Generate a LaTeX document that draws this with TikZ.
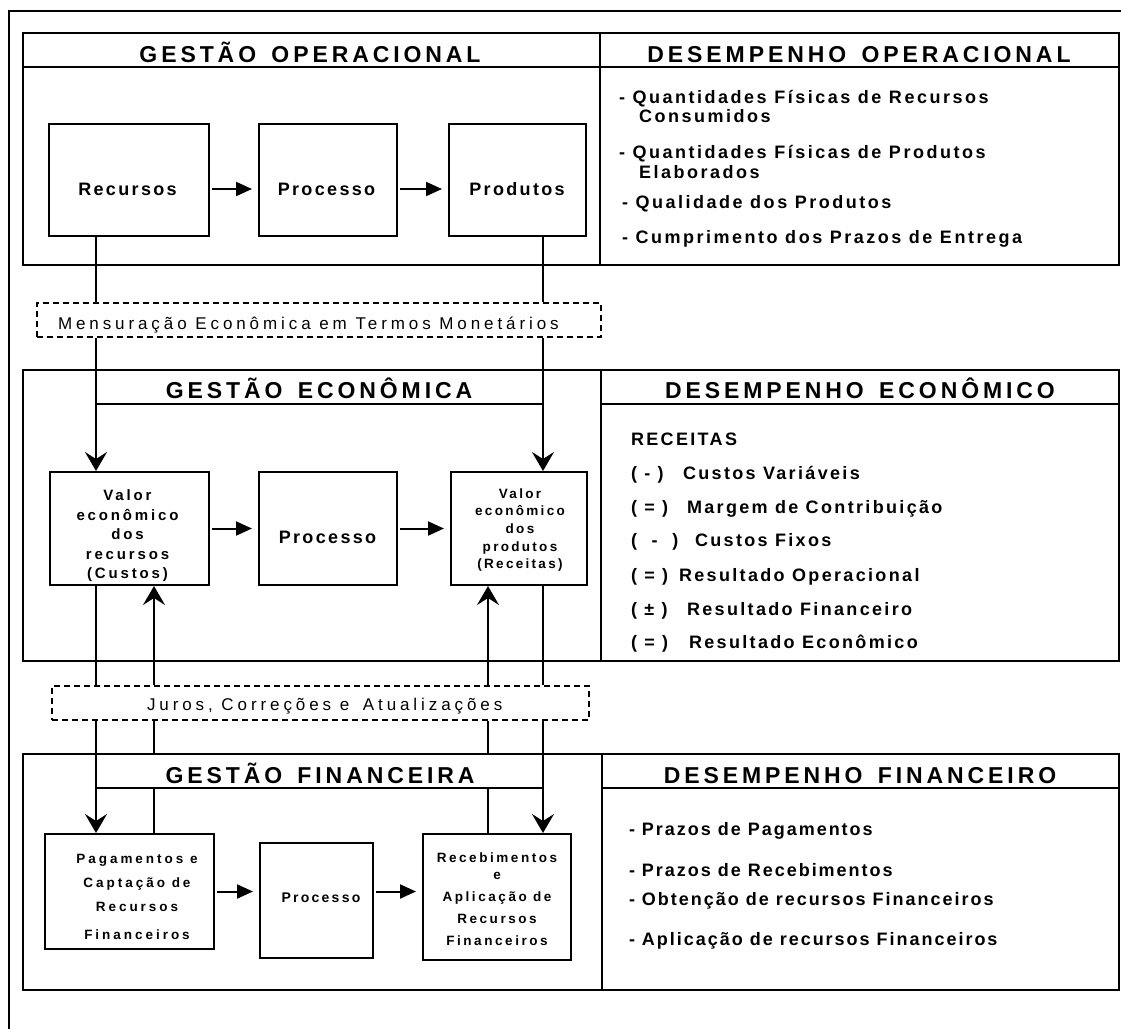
\documentclass[tikz,border=0pt]{standalone}
\usepackage{fontspec}
\setmainfont{Liberation Sans}
\usetikzlibrary{arrows.meta}

% type styles
\newcommand\hdrfont{\fontsize{23}{27}\selectfont\bfseries\addfontfeature{LetterSpace=17}}
\newcommand\lblfont{\fontsize{18}{21}\selectfont\bfseries\addfontfeature{LetterSpace=13}}
\newcommand\itmfont{\fontsize{18}{21}\selectfont\bfseries\addfontfeature{LetterSpace=13}}
\newcommand\itmwfont{\fontsize{18}{21}\selectfont\bfseries\addfontfeature{LetterSpace=14}}
\newcommand\itmnfont{\fontsize{18}{21}\selectfont\bfseries\addfontfeature{LetterSpace=11}}
\newcommand\dshfont{\fontsize{17}{20}\selectfont\addfontfeature{LetterSpace=23}}
\newcommand\valAfont{\fontsize{15}{19.5}\selectfont\bfseries\addfontfeature{LetterSpace=19}}
\newcommand\valBfont{\fontsize{13.5}{17.7}\selectfont\bfseries\addfontfeature{LetterSpace=17}}
\newcommand\finAfont{\fontsize{13.5}{24}\selectfont\bfseries\addfontfeature{LetterSpace=22}}
\newcommand\finBfont{\fontsize{13.5}{22}\selectfont\bfseries\addfontfeature{LetterSpace=19}}
\newcommand\finPfont{\fontsize{14}{17}\selectfont\bfseries\addfontfeature{LetterSpace=16}}
\newcommand\wgap{\hspace{5pt}}

\begin{document}
\begin{tikzpicture}[x=1pt,y=-1pt,line width=2pt,
  box/.style={draw,inner sep=0pt},
  dbox/.style={draw,dash pattern=on 6pt off 4pt,inner sep=0pt},
  txt/.style={inner sep=0pt,align=center},
  hdr/.style={anchor=base,inner sep=0pt,font=\hdrfont},
  lbl/.style={anchor=base,inner sep=0pt,font=\lblfont},
  itm/.style={anchor=base west,inner sep=0pt,font=\itmfont},
  itmw/.style={anchor=base west,inner sep=0pt,font=\itmwfont},
  itmn/.style={anchor=base west,inner sep=0pt,font=\itmnfont},
  dtxt/.style={anchor=base west,inner sep=0pt,font=\dshfont},
  harrow/.style={-{Triangle[length=16pt,width=14pt]},shorten <=2pt,shorten >=6pt},
  varrow/.style={-{Stealth[length=19pt,width=22pt,inset=7pt]}}]
\useasboundingbox (0,0) rectangle (1121,1028);
\fill[white] (0,0) rectangle (1121,1028);

% outer frame
\draw (9,1035) -- (9,11) -- (1130,11);

% vertical guide positions of the connectors
\coordinate (xa) at (96,0);
\coordinate (xb) at (154,0);
\coordinate (xc) at (488,0);
\coordinate (xd) at (543,0);
\coordinate (fintop) at (0,754);
\coordinate (finhdr) at (0,788);

% ---------- operational panel ----------
\draw (23,33) rectangle (1119,265);
\draw (23,67) -- (1119,67);
\draw (600,33) -- (600,265);
\node[hdr] (h-gop) at (310,62) {GESTÃO \wgap OPERACIONAL};
\node[hdr] (h-dop) at (859,62) {DESEMPENHO \wgap OPERACIONAL};

\node[box,minimum width=160pt,minimum height=112pt] (rec) at (129,180) {};
\node[box,minimum width=138pt,minimum height=112pt] (proc1) at (328,180) {};
\node[box,minimum width=137pt,minimum height=112pt] (prod) at (517.5,180) {};
\node[lbl] (rec-t) at (127.5,195) {Recursos};
\node[lbl] (proc1-t) at (326.5,195) {Processo};
\node[lbl] (prod-t) at (517,195) {Produtos};
\draw[harrow] ([yshift=-9pt]rec.east) -- ([yshift=-9pt]proc1.west);
\draw[harrow] ([yshift=-9pt]proc1.east) -- ([yshift=-9pt]prod.west);

\node[itmw] (op1) at (618,103) {- Quantidades Físicas de Recursos};
\node[itmw] (op1b) at (638,122) {Consumidos};
\node[itmw] (op2) at (618,158) {- Quantidades Físicas de Produtos};
\node[itmw] (op2b) at (638,178) {Elaborados};
\node[itmw] (op3) at (621,208) {- Qualidade dos Produtos};
\node[itmw] (op4) at (621,243) {- Cumprimento dos Prazos de Entrega};

% ---------- monetary measurement ----------
\node[dbox,minimum width=564pt,minimum height=34pt] (mens) at (319,320) {};
\node[dtxt] (mens-t) at (57,329) {Mensuração Econômica em Termos Monetários};
\draw (rec.south -| xa) -- (mens.north -| xa);
\draw (prod.south -| xd) -- (mens.north -| xd);

% ---------- economic panel ----------
\draw (23,370) rectangle (1119,661);
\draw (96,404) -- (543,404);
\draw (601,404) -- (1119,404);
\draw (601,370) -- (601,661);
\node[hdr] (h-gec) at (319,398) {GESTÃO \wgap ECONÔMICA};
\node[hdr] (h-dec) at (860,398) {DESEMPENHO \wgap ECONÔMICO};

\node[box,minimum width=159pt,minimum height=113pt] (valrec) at (129.5,528.5) {};
\node[box,minimum width=138pt,minimum height=113pt] (proc2) at (328,528.5) {};
\node[box,minimum width=136pt,minimum height=113pt] (valprod) at (519,528.5) {};
\node[txt,font=\valAfont] (valrec-t) at (127.5,536) {Valor\\econômico\\dos\\recursos\\(Custos)};
\node[lbl] (proc2-t) at (327.5,543) {Processo};
\node[txt,font=\valBfont] (valprod-t) at (520,530) {Valor\\econômico\\dos\\produtos\\(Receitas)};
\draw[harrow] (valrec.east) -- (proc2.west);
\draw[harrow] (proc2.east) -- (valprod.west);
\draw[varrow] (mens.south -| xa) -- (valrec.north -| xa);
\draw[varrow] (mens.south -| xd) -- (valprod.north -| xd);

\node[itm] (ec0) at (630,445) {RECEITAS};
\node[itm] (ec1p) at (630,479.3) {( - )};
\node[itm] (ec1) at (682,479.3) {Custos Variáveis};
\node[itm] (ec2p) at (630,513.3) {( = )};
\node[itm] (ec2) at (686,513.3) {Margem de Contribuição};
\node[itm] (ec3p) at (630,546.7) {(~~-~~)};
\node[itm] (ec3) at (694,546.7) {Custos Fixos};
\node[itm] (ec4p) at (630,581.7) {( = )};
\node[itm] (ec4) at (678,581.7) {Resultado Operacional};
\node[itm] (ec5p) at (630,615) {( ± )};
\node[itm] (ec5) at (686,615) {Resultado Financeiro};
\node[itm] (ec6p) at (630,648.3) {( = )};
\node[itm] (ec6) at (688,648.3) {Resultado Econômico};

% ---------- interest and adjustments ----------
\node[dbox,minimum width=537pt,minimum height=34pt] (juros) at (320.5,703) {};
\node[dtxt] (juros-t) at (146,710.7) {Juros, Correções e \hspace{5pt}Atualizações};
\draw (valrec.south -| xa) -- (juros.north -| xa);
\draw[varrow] (juros.north -| xb) -- (valrec.south -| xb);
\draw[varrow] (juros.north -| xc) -- (valprod.south -| xc);
\draw (valprod.south -| xd) -- (juros.north -| xd);

% ---------- financial panel ----------
\draw (23,754) rectangle (1119,990);
\draw (96,788) -- (543,788);
\draw (602,788) -- (1119,788);
\draw (602,754) -- (602,990);
\node[hdr] (h-gfi) at (320,783) {GESTÃO \wgap FINANCEIRA};
\node[hdr] (h-dfi) at (860,783) {DESEMPENHO \wgap FINANCEIRO};

\node[box,minimum width=169pt,minimum height=115pt] (pag) at (129.5,891.5) {};
\node[box,minimum width=113pt,minimum height=115pt] (proc3) at (316.5,900.5) {};
\node[box,minimum width=148pt,minimum height=126pt] (receb) at (497,897) {};
\node[txt,font=\finAfont] (pag-t) at (137,897) {Pagamentos e\\Captação de\\Recursos\\[4pt]Financeiros};
\node[anchor=base,inner sep=0pt,font=\finPfont] (proc3-t) at (321,902) {Processo};
\node[txt,font=\finBfont] (receb-t) at (497,899) {Recebimentos\\[-5pt]e\\Aplicação de\\Recursos\\Financeiros};
\draw[harrow] (pag.east) -- (pag.east -| proc3.west);
\draw[harrow] (pag.east -| proc3.east) -- (pag.east -| receb.west);

\draw[varrow] (juros.south -| xa) -- (pag.north -| xa);
\draw (juros.south -| xb) -- (fintop -| xb);
\draw (finhdr -| xb) -- (pag.north -| xb);
\draw (juros.south -| xc) -- (fintop -| xc);
\draw (finhdr -| xc) -- (receb.north -| xc);
\draw[varrow] (juros.south -| xd) -- (receb.north -| xd);

\node[itmn] (fi1) at (628,835) {- Prazos de Pagamentos};
\node[itmn] (fi2) at (628,876.7) {- Prazos de Recebimentos};
\node[itmn] (fi3) at (628,905) {- Obtenção de recursos Financeiros};
\node[itmn] (fi4) at (628,945) {- Aplicação de recursos Financeiros};
\end{tikzpicture}
\end{document}
